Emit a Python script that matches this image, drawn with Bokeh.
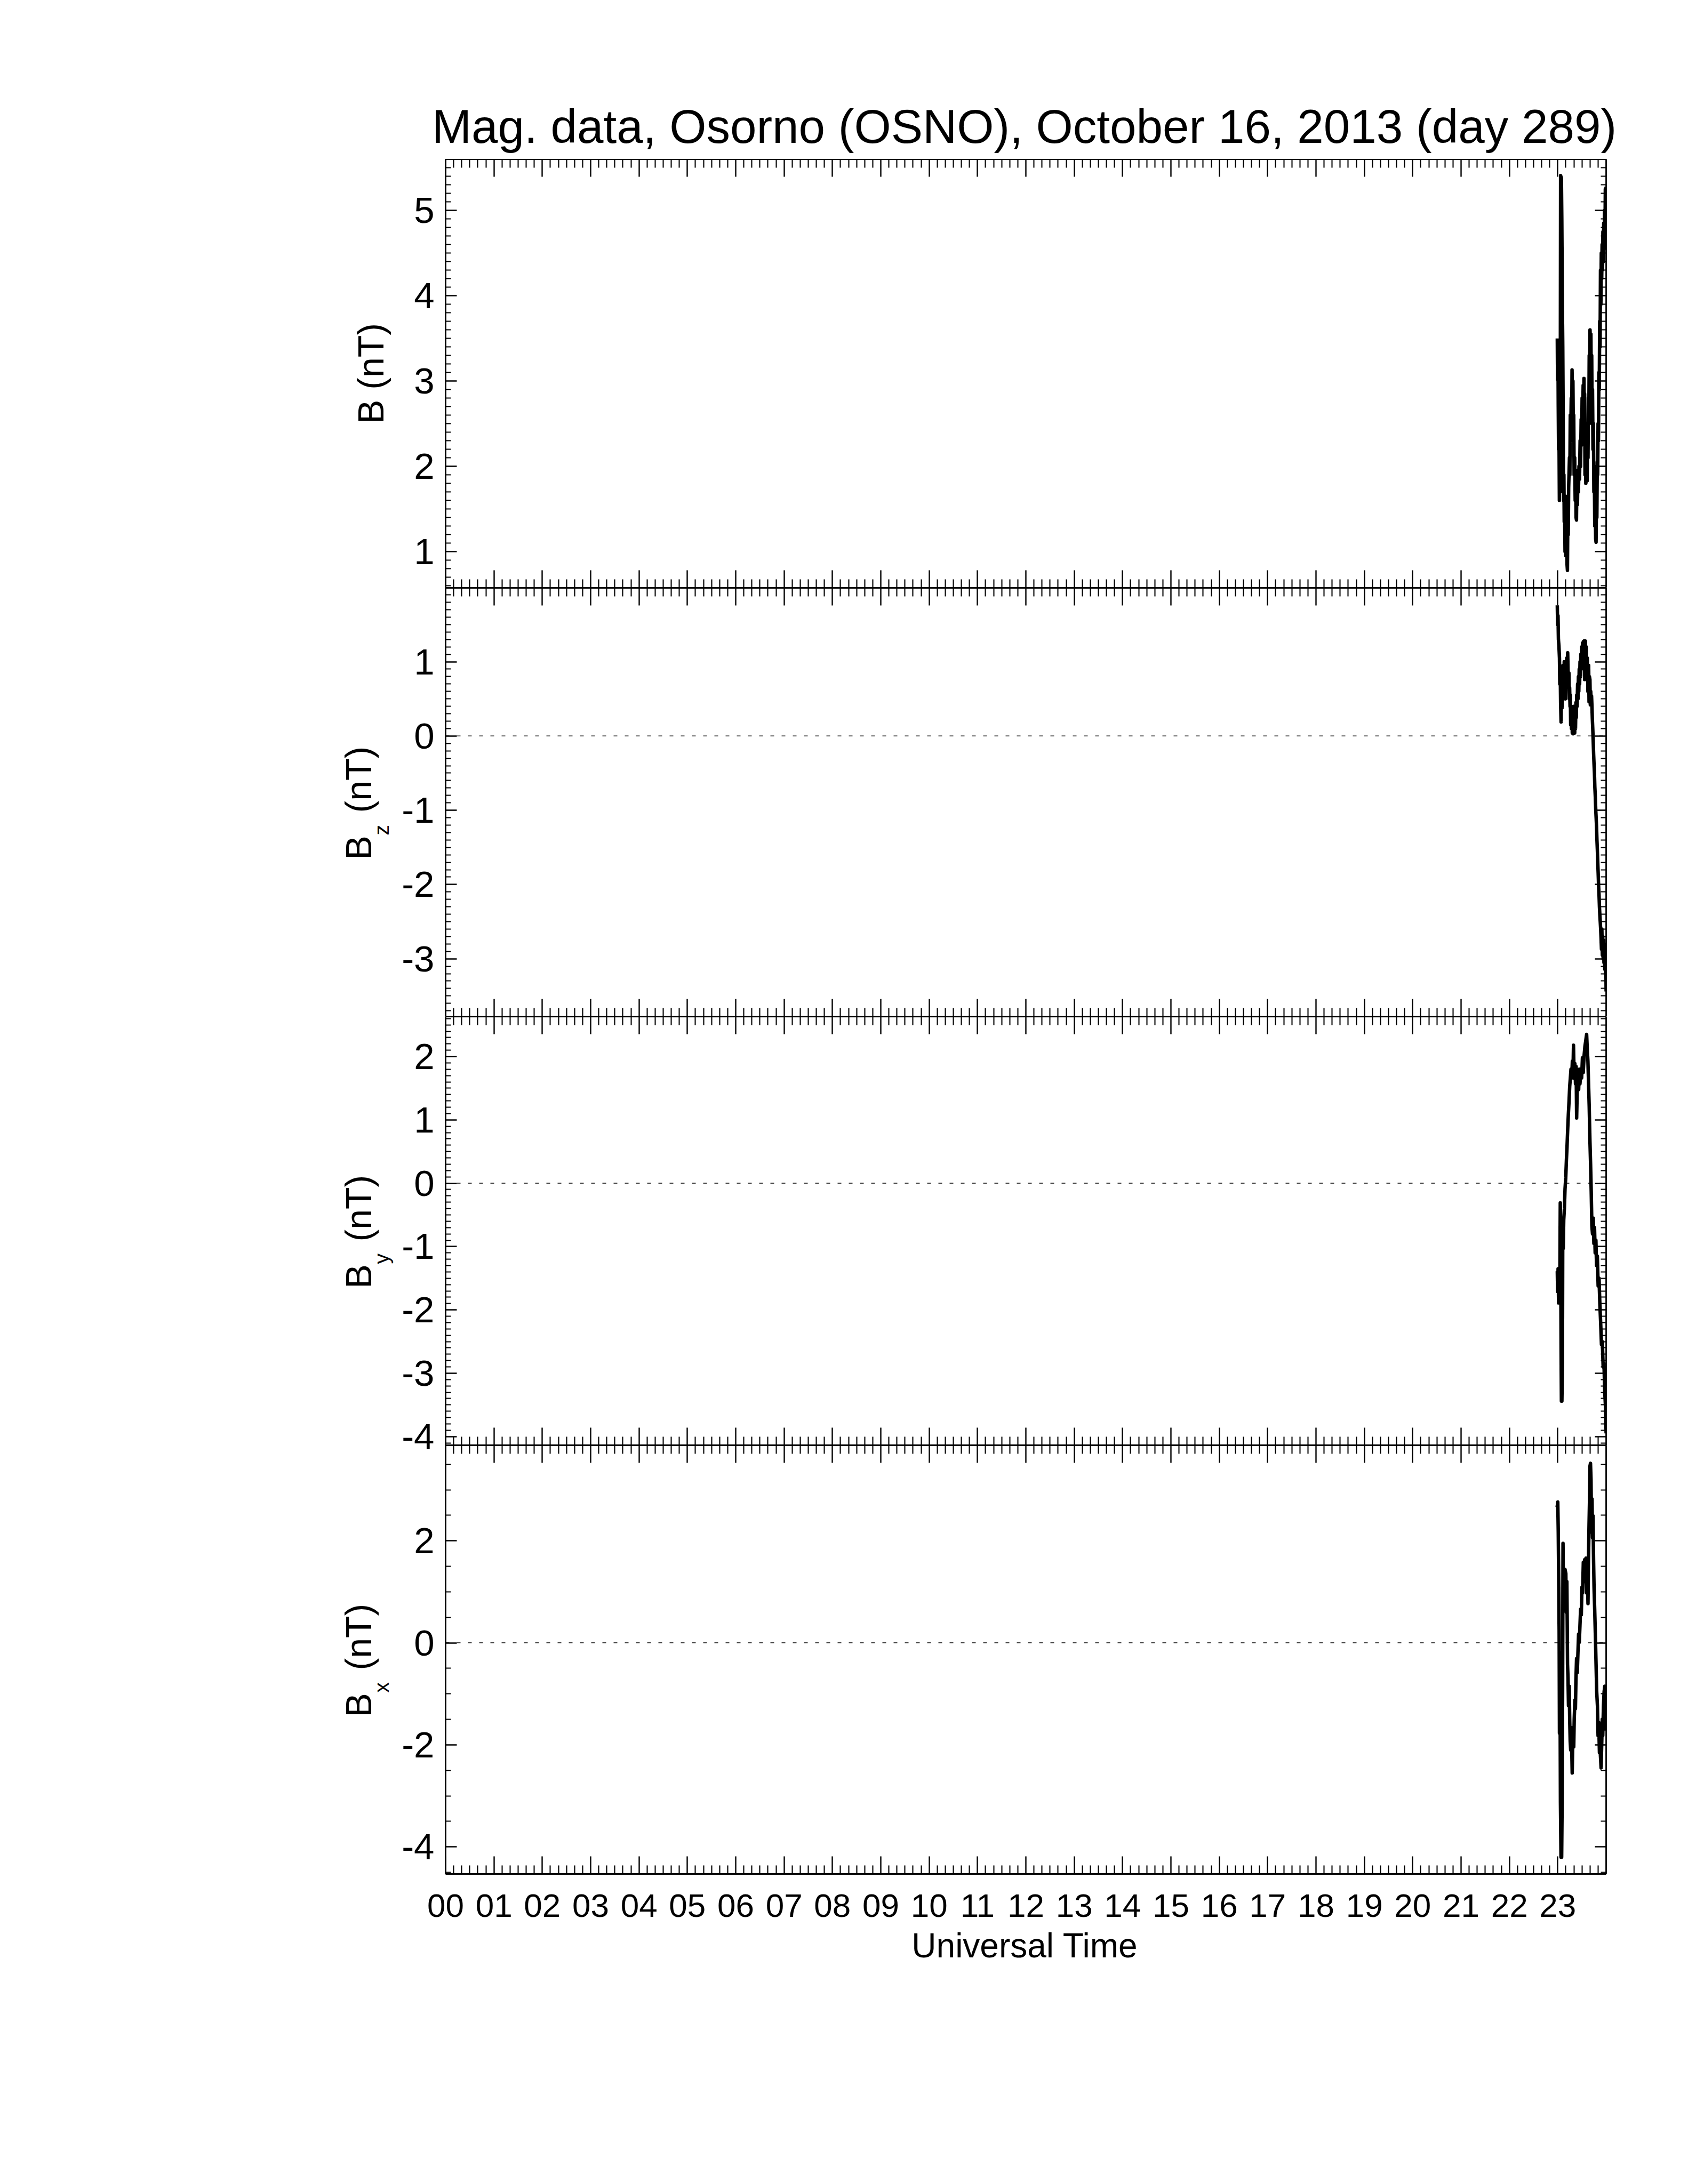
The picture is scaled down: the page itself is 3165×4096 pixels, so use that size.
import math
from bokeh.plotting import figure
from bokeh.models import Range1d, LinearAxis, FixedTicker, Label, Span
from bokeh.layouts import column, row
from bokeh.embed import file_html
from bokeh.resources import INLINE

# ---------------- data ----------------
TITLE = "Mag. data, Osorno (OSNO), October 16, 2013 (day 289)"
X_LABEL = "Universal Time"
HOUR_TICKS = list(range(24))
HOUR_LABELS = ["00", "01", "02", "03", "04", "05", "06", "07", "08", "09", "10", "11",
               "12", "13", "14", "15", "16", "17", "18", "19", "20", "21", "22", "23"]
DATA_START_HOUR = 23  # samples below are minutes after 23:00 UT

b_min = [-0.6, -0.3, 0.2, 0.6, 1.0, 1.4, 2.0, 2.5, 3.0, 3.5,
         4.5, 5.0, 5.6, 6.2, 6.8, 7.2, 7.6, 8.0, 8.4, 9.0,
         9.5, 10.0, 10.5, 11.5, 12.0, 12.5, 13.0, 13.5, 14.5, 15.0,
         15.5, 16.0, 16.7, 17.2, 17.7, 18.3, 18.8, 19.3, 19.8, 20.3,
         21.0, 21.6, 22.2, 22.7, 23.2, 23.7, 24.4, 25.0, 25.6, 26.3,
         27.0, 27.7, 28.3, 29.0, 29.6, 30.2, 30.8, 31.5, 32.0, 32.5,
         33.0, 33.3, 33.8, 34.3, 34.8, 35.4, 36.0, 36.5, 37.0, 37.5,
         38.0, 38.5, 39.0, 39.5, 40.0, 40.6, 41.1, 41.6, 42.1, 42.6,
         43.1, 43.7, 44.2, 44.8, 45.3, 45.9, 46.4, 47.0, 47.5, 48.0,
         48.5, 49.0, 49.5, 50.0, 50.5, 51.0, 51.5, 52.0, 52.5, 53.0,
         53.5, 54.0, 54.5, 55.0, 55.5, 56.0, 56.5, 57.0, 57.5, 58.0,
         58.5, 59.0, 59.5, 59.9]
b_val = [3.50, 3.02, 3.45, 2.70, 2.20, 2.60, 1.60, 2.40, 1.70, 5.41,
         5.38, 4.90, 4.00, 3.40, 2.40, 1.60, 1.90, 1.35, 1.60, 1.00,
         1.65, 0.95, 1.60, 0.85, 0.78, 1.50, 1.20, 1.75, 2.10, 1.90,
         2.60, 2.30, 2.80, 2.40, 3.13, 2.80, 3.00, 2.40, 2.60, 1.90,
         2.10, 1.60, 1.90, 1.40, 1.37, 1.90, 1.55, 1.95, 1.70, 2.00,
         1.85, 2.30, 2.00, 2.55, 2.25, 2.80, 2.50, 2.95, 2.60, 3.03,
         2.50, 2.85, 1.90, 2.30, 1.80, 2.40, 1.85, 1.83, 2.50, 2.10,
         2.80, 2.50, 3.30, 3.00, 3.60, 3.40, 3.55, 2.90, 3.30, 2.50,
         2.90, 2.20, 2.50, 1.70, 2.00, 1.30, 1.60, 1.15, 1.11, 1.60,
         1.40, 2.05, 1.90, 2.50, 2.30, 3.10, 2.90, 3.70, 3.40, 4.30,
         3.90, 4.50, 4.20, 4.60, 4.30, 4.75, 4.40, 4.85, 4.55, 5.00,
         4.60, 5.25, 4.90, 5.28]

bz_min = [-0.6, -0.2, 0.3, 0.8, 1.4, 2.1, 2.5, 2.8, 3.1, 3.5,
          4.1, 4.5, 4.9, 5.3, 5.8, 6.2, 6.6, 7.0, 7.5, 8.0,
          8.5, 9.0, 9.4, 9.7, 10.2, 10.7, 11.2, 11.7, 12.3, 12.8,
          13.3, 13.8, 14.2, 14.7, 15.2, 15.6, 16.0, 16.5, 17.0, 17.5,
          18.0, 18.5, 19.0, 19.5, 20.0, 20.5, 21.0, 21.5, 22.0, 22.5,
          23.0, 23.5, 24.0, 24.6, 25.1, 25.6, 26.1, 26.6, 27.1, 27.6,
          28.1, 28.6, 29.2, 29.7, 30.2, 30.7, 31.2, 31.7, 32.3, 32.8,
          33.3, 33.8, 34.3, 34.8, 35.3, 35.8, 36.2, 36.6, 37.0, 37.4,
          37.8, 38.3, 38.8, 39.3, 39.9, 40.4, 40.9, 41.4, 41.9, 42.4,
          42.9, 43.4, 44.0, 44.5, 45.0, 45.5, 46.0, 46.5, 47.1, 47.6,
          48.1, 48.6, 49.1, 49.6, 50.1, 50.6, 51.2, 51.7, 52.2, 52.7,
          53.2, 53.7, 54.2, 54.7, 55.3, 55.8, 56.3, 56.8, 57.3, 57.8,
          58.3, 58.8, 59.2, 59.6, 60.0]
bz_val = [1.76, 1.50, 1.62, 1.30, 1.22, 1.05, 0.70, 0.95, 0.84, 0.45,
          0.19, 0.70, 0.55, 0.38, 0.90, 0.84, 0.55, 0.95, 0.60, 1.00,
          0.70, 0.96, 0.50, 0.62, 0.85, 0.70, 1.05, 0.80, 1.12, 0.85,
          0.70, 0.85, 0.50, 0.65, 0.40, 0.55, 0.15, 0.40, 0.10, 0.35,
          0.04, 0.30, 0.03, 0.40, 0.05, 0.30, 0.04, 0.35, 0.10, 0.45,
          0.25, 0.55, 0.40, 0.70, 0.50, 0.80, 0.60, 0.90, 0.70, 1.00,
          0.80, 1.10, 0.90, 1.20, 1.00, 1.25, 1.05, 1.27, 1.10, 1.28,
          0.76, 1.25, 1.28, 1.00, 1.20, 0.85, 0.76, 1.05, 0.90, 0.60,
          0.69, 0.95, 0.46, 0.80, 0.76, 0.42, 0.60, 0.42, 0.54, 0.40,
          0.23, 0.10, -0.08, -0.25, -0.38, -0.50, -0.69, -0.80, -0.99, -1.10,
          -1.22, -1.40, -1.53, -1.70, -1.84, -2.00, -2.14, -2.30, -2.41, -2.50,
          -2.60, -2.72, -2.87, -2.60, -2.95, -2.70, -3.00, -2.75, -3.05, -2.80,
          -3.14, -2.87, -3.20, -2.95, -3.44]

by_min = [-0.6, -0.2, 0.4, 1.0, 1.6, 2.5, 3.1, 3.5, 4.1, 4.5,
          5.1, 5.8, 6.2, 6.8, 7.4, 8.2, 9.0, 9.9, 10.7, 11.5,
          12.3, 13.1, 14.0, 14.8, 15.6, 16.4, 17.3, 18.1, 18.9, 19.5,
          20.3, 21.2, 22.0, 22.8, 23.4, 24.2, 25.1, 25.9, 26.7, 27.5,
          28.6, 29.6, 30.6, 31.6, 32.7, 33.7, 34.7, 35.8, 36.6, 37.4,
          38.2, 39.0, 39.9, 40.7, 41.5, 42.3, 43.1, 44.0, 44.8, 45.6,
          46.4, 47.3, 48.1, 49.1, 50.1, 51.2, 52.2, 53.2, 54.2, 55.3,
          56.3, 57.3, 58.3, 59.3, 60.0]
by_val = [-1.39, -1.71, -1.35, -1.89, -1.48, -1.75, -0.31, -0.72, -2.61, -3.44,
          -3.44, -2.83, -0.67, -1.03, -0.58, -0.40, -0.09, 0.09, 0.36, 0.58,
          0.85, 1.08, 1.30, 1.53, 1.66, 1.80, 1.66, 1.93, 1.75, 2.18,
          1.66, 1.89, 1.57, 1.84, 1.03, 1.53, 1.75, 1.48, 1.80, 1.57,
          1.75, 1.66, 1.98, 1.75, 2.02, 2.16, 2.25, 2.35, 2.11, 1.93,
          1.57, 1.21, 0.67, 0.31, -0.13, -0.67, -0.80, -0.55, -0.95, -0.70,
          -1.10, -0.90, -1.30, -1.15, -1.62, -1.50, -1.90, -2.20, -2.55, -2.50,
          -2.90, -2.85, -3.30, -3.55, -3.95]

bx_min = [-0.8, 0.0, 0.6, 1.25, 1.7, 2.1, 2.7, 3.3, 4.0, 4.8,
          5.4, 6.0, 6.5, 7.1, 7.9, 9.0, 10.0, 10.6, 11.25, 11.7,
          12.1, 12.7, 13.3, 14.2, 14.8, 15.4, 16.0, 16.7, 17.3, 17.9,
          18.5, 19.2, 19.8, 20.4, 21.25, 21.9, 22.5, 23.3, 24.2, 25.0,
          25.8, 26.7, 27.5, 28.3, 29.2, 30.0, 30.8, 31.7, 32.5, 33.3,
          34.2, 35.0, 35.8, 36.7, 37.5, 38.1, 38.75, 39.4, 40.0, 40.6,
          41.25, 41.9, 42.5, 43.1, 43.75, 44.4, 45.0, 45.8, 46.7, 47.5,
          48.3, 49.2, 50.0, 50.8, 51.7, 52.3, 52.9, 53.75, 54.6, 55.2,
          55.8, 56.7, 57.5, 58.3, 59.2, 60.0]
bx_val = [2.66, 2.76, 2.17, 1.09, 0.23, -1.77, -0.20, -3.12, -4.20, -4.20,
          -3.12, -0.96, 1.95, 0.66, 1.41, 1.44, 1.36, 0.60, 1.20, 0.44,
          -0.42, -0.69, -1.23, -0.85, -1.50, -1.93, -2.10, -1.66, -2.04, -2.55,
          -2.04, -1.72, -2.04, -1.50, -1.12, -1.29, -0.75, -0.31, -0.58, -0.20,
          0.17, 0.01, 0.33, 0.66, 0.55, 1.09, 0.98, 1.58, 1.36, 1.63,
          1.20, 1.66, 0.98, 1.36, 0.77, 1.63, 2.28, 2.82, 3.47, 3.52,
          3.20, 2.17, 2.82, 2.06, 2.49, 1.63, 1.09, 0.66, 0.12, -0.42,
          -0.96, -1.23, -1.82, -1.56, -2.15, -1.72, -2.20, -2.45, -1.93, -1.50,
          -1.82, -1.23, -0.96, -0.85, -1.39, -1.72]

# axis ranges, ticks and tick labels per panel
B_RANGE = (0.575, 5.602)
BZ_RANGE = (-3.778, 1.995)
BY_RANGE = (-4.137, 2.632)
BX_RANGE = (-4.53, 3.874)
B_TICKS = [1, 2, 3, 4, 5]
BZ_TICKS = [-3, -2, -1, 0, 1]
BY_TICKS = [-4, -3, -2, -1, 0, 1, 2]
BX_TICKS = [-4, -2, 0, 2]
B_TICK_LABELS = ["1", "2", "3", "4", "5"]
BZ_TICK_LABELS = ["-3", "-2", "-1", "0", "1"]
BY_TICK_LABELS = ["-4", "-3", "-2", "-1", "0", "1", "2"]
BX_TICK_LABELS = ["-4", "-2", "0", "2"]
B_MINOR_STEP = 0.1
BZ_MINOR_STEP = 0.1
BY_MINOR_STEP = 0.1
BX_MINOR_STEP = 0.5
Y_SUBSCRIPTS = [None, "z", "y", "x"]

# ---------------- layout / style (pixels) ----------------
FONT = "Liberation Sans"
W_LEFT = 745            # strip holding the rotated y titles
PANEL_BORDER_LEFT = 90  # room for y tick labels
FRAME_W = 2176
RIGHT_BORDER = 140
PANEL_W = PANEL_BORDER_LEFT + FRAME_W + RIGHT_BORDER
TOTAL_W = W_LEFT + PANEL_W
TITLE_H = 298
PANEL_H = 804
OVERLAP = 24            # room below panel 3 for its "-4" label, overlapped by panel 4
XTICK_BORDER = 100
XLABEL_H = 100
COLUMN_H = 4 * PANEL_H + XTICK_BORDER

AXIS_LW = 2.8
TICK_LW = 2.4
MINOR_LW = 2.1
DATA_LW = 6.5

x_minor = [h + k / 6.0 for h in range(24) for k in range(1, 6)]


def minor_list(lo, hi, step, majors):
    out = []
    k0 = math.ceil(lo / step - 1e-9)
    k1 = math.floor(hi / step + 1e-9)
    for k in range(k0, k1 + 1):
        v = round(k * step, 4)
        if all(abs(v - m) > 1e-6 for m in majors):
            out.append(v)
    return out


def hide_labels(ax):
    ax.major_label_text_color = None
    ax.major_label_text_font_size = "1px"
    ax.major_label_standoff = 0


def make_x_axis(show_labels):
    ax = LinearAxis(ticker=FixedTicker(ticks=HOUR_TICKS, minor_ticks=x_minor))
    ax.axis_line_width = AXIS_LW
    ax.major_tick_in = 33
    ax.major_tick_out = 0
    ax.minor_tick_in = 16
    ax.minor_tick_out = 0
    ax.major_tick_line_width = TICK_LW
    ax.minor_tick_line_width = MINOR_LW
    if show_labels:
        ax.major_label_overrides = {t: lab for t, lab in zip(HOUR_TICKS, HOUR_LABELS)}
        ax.major_label_text_font = FONT
        ax.major_label_text_font_size = "62px"
        ax.major_label_text_color = "black"
        ax.major_label_standoff = 38
    else:
        hide_labels(ax)
    return ax


def make_y_axis(ticks, labels, minor, show_labels):
    ax = LinearAxis(ticker=FixedTicker(ticks=ticks, minor_ticks=minor))
    ax.axis_line_width = AXIS_LW
    ax.major_tick_in = 21
    ax.major_tick_out = 0
    ax.minor_tick_in = 10
    ax.minor_tick_out = 0
    ax.major_tick_line_width = TICK_LW
    ax.minor_tick_line_width = MINOR_LW
    if show_labels:
        ax.major_label_overrides = {t: lab for t, lab in zip(ticks, labels)}
        ax.major_label_text_font = FONT
        ax.major_label_text_font_size = "69px"
        ax.major_label_text_color = "black"
        ax.major_label_standoff = 21
    else:
        hide_labels(ax)
    return ax


def make_panel(minutes, values, yr, ticks, labels, step, zero_line, bottom, show_x):
    p = figure(width=PANEL_W, height=PANEL_H + bottom,
               x_range=Range1d(0, 24), y_range=Range1d(yr[0], yr[1]),
               x_axis_type=None, y_axis_type=None,
               toolbar_location=None, output_backend="svg",
               min_border_left=PANEL_BORDER_LEFT, min_border_right=RIGHT_BORDER,
               min_border_top=0, min_border_bottom=bottom)
    p.outline_line_color = None
    p.background_fill_color = None
    p.border_fill_color = None
    minor = minor_list(yr[0], yr[1], step, ticks)
    p.add_layout(make_x_axis(False), "above")
    p.add_layout(make_x_axis(show_x), "below")
    p.add_layout(make_y_axis(ticks, labels, minor, True), "left")
    p.add_layout(make_y_axis(ticks, labels, minor, False), "right")

    if zero_line:
        p.add_layout(Span(location=0, dimension="width", line_color="black",
                          line_width=1.5, line_dash="7 14"))

    hours = [DATA_START_HOUR + m / 60.0 for m in minutes]
    p.line(hours, values, line_color="black", line_width=DATA_LW, line_join="round")
    return p


def blank_fig(w, h):
    f = figure(width=w, height=h, x_range=Range1d(0, w), y_range=Range1d(0, h),
               x_axis_type=None, y_axis_type=None, toolbar_location=None,
               output_backend="svg", min_border=0)
    f.min_border_left = 0
    f.min_border_right = 0
    f.min_border_top = 0
    f.min_border_bottom = 0
    f.outline_line_color = None
    f.background_fill_color = None
    f.border_fill_color = None
    return f


p1 = make_panel(b_min, b_val, B_RANGE, B_TICKS, B_TICK_LABELS, B_MINOR_STEP, False, 0, False)
p2 = make_panel(bz_min, bz_val, BZ_RANGE, BZ_TICKS, BZ_TICK_LABELS, BZ_MINOR_STEP, True, 0, False)
p3 = make_panel(by_min, by_val, BY_RANGE, BY_TICKS, BY_TICK_LABELS, BY_MINOR_STEP, True,
                OVERLAP, False)
p4 = make_panel(bx_min, bx_val, BX_RANGE, BX_TICKS, BX_TICK_LABELS, BX_MINOR_STEP, True,
                XTICK_BORDER, True)
p4.margin = (-OVERLAP, 0, 0, 0)

# title strip
title_fig = blank_fig(TOTAL_W, TITLE_H)
title_fig.add_layout(Label(x=1920, y=62, text=TITLE, text_align="center",
                           text_baseline="alphabetic", text_font=FONT,
                           text_font_size="89px", text_color="black"))

# strip with the rotated y titles
left_fig = blank_fig(W_LEFT, COLUMN_H)
for i, sub in enumerate(Y_SUBSCRIPTS):
    yc = COLUMN_H - (i * PANEL_H + PANEL_H / 2.0)
    if sub is None:
        left_fig.add_layout(Label(x=694, y=yc, text="B (nT)", angle=math.pi / 2,
                                  text_align="center", text_baseline="alphabetic",
                                  text_font=FONT, text_font_size="68px", text_color="black"))
    else:
        left_fig.add_layout(Label(x=671, y=yc, y_offset=-108, text="B", angle=math.pi / 2,
                                  text_align="left", text_baseline="alphabetic",
                                  text_font=FONT, text_font_size="68px", text_color="black"))
        left_fig.add_layout(Label(x=715, y=yc, y_offset=-62, text=sub, angle=math.pi / 2,
                                  text_align="left", text_baseline="alphabetic",
                                  text_font=FONT, text_font_size="39px", text_color="black"))
        left_fig.add_layout(Label(x=671, y=yc, y_offset=-20, text="(nT)", angle=math.pi / 2,
                                  text_align="left", text_baseline="alphabetic",
                                  text_font=FONT, text_font_size="68px", text_color="black"))

# x-axis title strip
bottom_fig = blank_fig(TOTAL_W, XLABEL_H)
bottom_fig.add_layout(Label(x=1921, y=66, text=X_LABEL, text_align="center",
                            text_baseline="alphabetic", text_font=FONT,
                            text_font_size="64px", text_color="black"))

layout = column(title_fig,
                row(left_fig, column(p1, p2, p3, p4, spacing=0), spacing=0),
                bottom_fig, spacing=0)

with open("out.html", "w") as f:
    f.write(file_html(layout, INLINE, title="Mag. data, Osorno (OSNO)"))
